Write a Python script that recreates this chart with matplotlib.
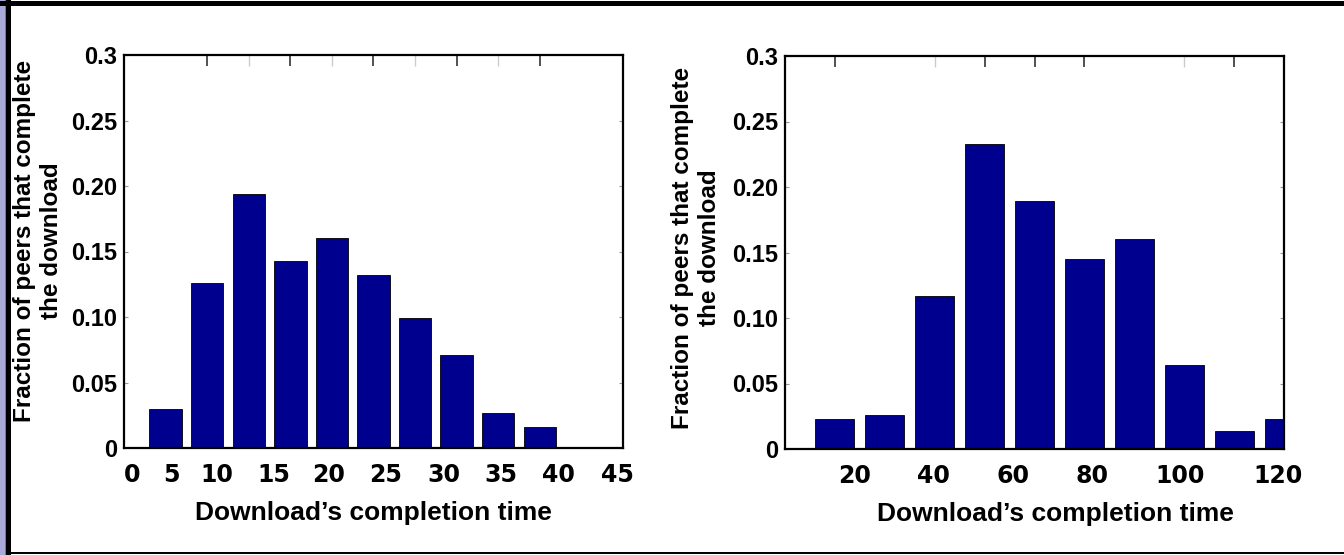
import matplotlib.pyplot as plt
from matplotlib.patches import Rectangle

# fraction of peers per completion-time bin
left_values = [0.030, 0.126, 0.194, 0.143, 0.160, 0.132, 0.099, 0.071, 0.027, 0.016]
right_values = [0.023, 0.026, 0.117, 0.233, 0.189, 0.145, 0.160, 0.064, 0.014, 0.023]

left_xlabels = ['0', '5', '10', '15', '20', '25', '30', '35', '40', '45']
left_xlabel_pos = [0.19, 1.13, 2.24, 3.61, 4.93, 6.30, 7.70, 9.07, 10.44, 11.86]
right_xlabels = ['20', '40', '60', '80', '100', '120']
right_xlabel_pos = [1.40, 2.97, 4.57, 6.15, 7.92, 9.88]

yticks = [0, 0.05, 0.10, 0.15, 0.20, 0.25, 0.3]
ytick_labels = ['0', '0.05', '0.10', '0.15', '0.20', '0.25', '0.3']

bar_color = '#00008f'
ylabel_text = 'Fraction of peers that complete\nthe download'
xlabel_text = 'Download\u2019s completion time'

W, H = 1344, 555
fig = plt.figure(figsize=(W / 100, H / 100), dpi=100)
fig.patch.set_facecolor('white')


def draw_panel(rect, values, xmax, xpos, xlabels, top_major, top_minor, xlab_x, ylab_x, ylab_y):
    ax = fig.add_axes(rect)
    pos = list(range(1, len(values) + 1))
    ax.bar(pos, values, width=0.78, color=bar_color, edgecolor='black', linewidth=0.6)
    ax.set_xlim(0, xmax)
    ax.set_ylim(0, 0.3)

    ax.set_xticks(xpos)
    ax.set_xticklabels(xlabels, fontfamily='DejaVu Sans', fontweight='bold', fontsize=17)
    ax.tick_params(axis='x', length=0, pad=11)

    ax.set_yticks(yticks)
    ax.set_yticklabels(ytick_labels, fontfamily='Liberation Sans', fontweight='bold', fontsize=17)
    ax.tick_params(axis='y', direction='in', length=3, color='#999999', right=True, pad=5)

    top = ax.secondary_xaxis('top')
    top.set_xticks(top_major)
    top.set_xticks(top_minor, minor=True)
    top.tick_params(which='major', direction='in', length=8, width=1.2, color='#333333', labeltop=False)
    top.tick_params(which='minor', direction='in', length=8, width=1.0, color='#cccccc', labeltop=False)
    top.spines['top'].set_visible(False)

    for s in ax.spines.values():
        s.set_linewidth(1.6)
        s.set_color('black')

    ax.set_xlabel(xlabel_text, fontfamily='Liberation Sans', fontweight='bold', fontsize=19)
    ax.xaxis.set_label_coords(xlab_x, -0.134)
    ax.set_ylabel(ylabel_text, fontfamily='Liberation Sans', fontweight='bold', fontsize=17.5,
                  linespacing=1.25, multialignment='center')
    ax.yaxis.set_label_coords(ylab_x, ylab_y)
    return ax


draw_panel([124 / W, 1 - 448 / H, 499 / W, 393 / H], left_values, 12,
           left_xlabel_pos, left_xlabels, [2, 4, 6, 8, 10], [3, 5, 7, 9], 0.5, -0.122, 0.527)
draw_panel([785 / W, 1 - 449 / H, 499 / W, 393 / H], right_values, 10,
           right_xlabel_pos, right_xlabels, [1, 4, 5, 6, 9], [3, 8], 0.541, -0.128, 0.511)

# slide frame: lavender strip on the left, black borders
fig.add_artist(Rectangle((0, 0), 5 / W, 1, transform=fig.transFigure, color='#aaaad8', lw=0))
fig.add_artist(Rectangle((5 / W, 0), 1 / W, 1, transform=fig.transFigure, color='#777799', lw=0))
fig.add_artist(Rectangle((6 / W, 0), 5 / W, 1, transform=fig.transFigure, color='black', lw=0))
fig.add_artist(Rectangle((0, 1 - 6 / H), 1, 5 / H, transform=fig.transFigure, color='black', lw=0))
fig.add_artist(Rectangle((6 / W, 1 - 554 / H), 1, 2 / H, transform=fig.transFigure, color='black', lw=0))

fig.savefig('out.png', dpi=100)
